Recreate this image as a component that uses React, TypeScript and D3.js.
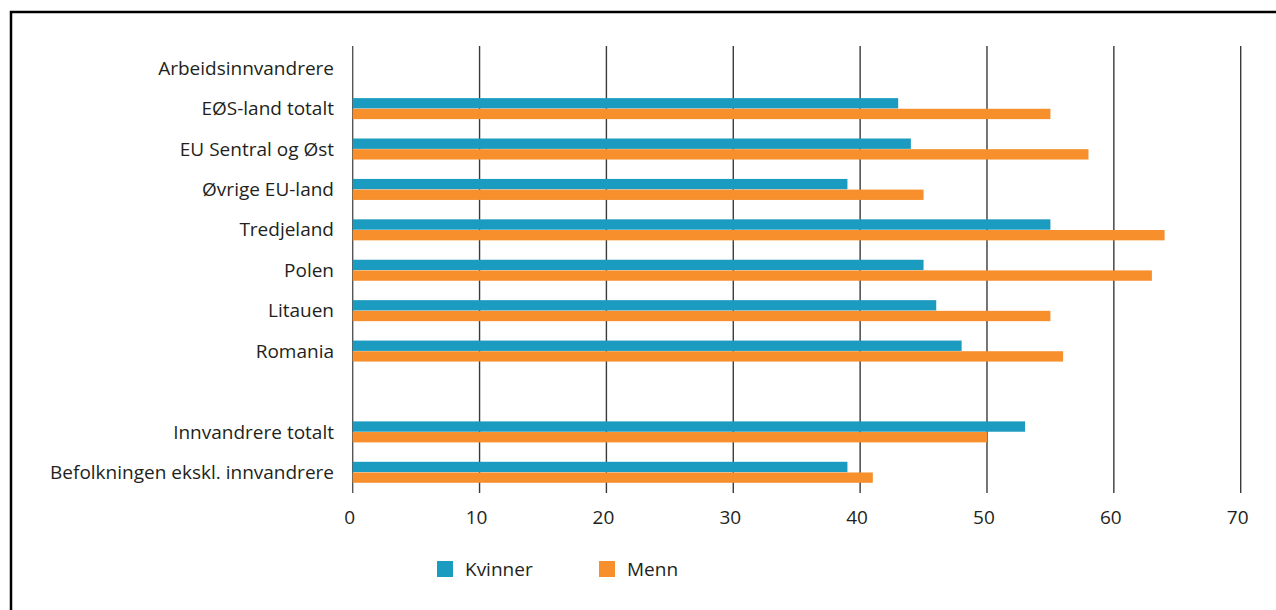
import React from "react";
import * as d3 from "d3";

// Categories top to bottom; empty strings are header / spacer rows without bars
const categories = [
  "Arbeidsinnvandrere",
  "EØS-land totalt",
  "EU Sentral og Øst",
  "Øvrige EU-land",
  "Tredjeland",
  "Polen",
  "Litauen",
  "Romania",
  "",
  "Innvandrere totalt",
  "Befolkningen ekskl. innvandrere",
];

// Percent values; null means no bar on that row
const kvinner: (number | null)[] = [null, 43, 44, 39, 55, 45, 46, 48, null, 53, 39];
const menn: (number | null)[] = [null, 55, 58, 45, 64, 63, 55, 56, null, 50, 41];

const seriesNames = ["Kvinner", "Menn"];
const seriesColors = ["#1b9bbf", "#f68f2c"];
const xTicks = [0, 10, 20, 30, 40, 50, 60, 70];

const W = 1276;
const H = 610;
const FONT = "'Open Sans', sans-serif";
const FS = 19;
const TEXT = "#231f20";

export default function App() {
  const x = d3.scaleLinear().domain([0, 70]).range([352.7, 1240.7]);
  const rowKeys = categories.map((_, i) => String(i));
  const y = d3.scaleBand<string>().domain(rowKeys).range([48, 492.5]);
  const inner = d3
    .scaleBand<string>()
    .domain(seriesNames)
    .range([0, 21])
    .paddingInner(0.03);
  const seriesValues = [kvinner, menn];

  return (
    <svg
      width={W}
      height={H}
      style={{ position: "absolute", left: 0, top: 0, display: "block", background: "#fff" }}
    >
      {/* frame */}
      <path d={`M11,${H + 5} V12 H${W + 5}`} fill="none" stroke="#000" strokeWidth={2.5} />

      {/* vertical grid lines */}
      {xTicks.map((t) => (
        <line
          key={t}
          x1={x(t)}
          x2={x(t)}
          y1={46}
          y2={493}
          stroke={t === 0 ? "#555" : "#3a3a3a"}
          strokeWidth={1.4}
        />
      ))}

      {/* bars */}
      {categories.map((c, i) => {
        const band = y(String(i))!;
        const top = band + y.bandwidth() / 2 - 10.5;
        return seriesNames.map((s, si) => {
          const v = seriesValues[si][i];
          if (v == null) return null;
          return (
            <rect
              key={`${i}-${s}`}
              x={x(0)}
              y={top + inner(s)!}
              width={x(v) - x(0)}
              height={inner.bandwidth()}
              fill={seriesColors[si]}
            />
          );
        });
      })}

      {/* category labels */}
      {categories.map((c, i) => (
        <text
          key={`l${i}`}
          x={334}
          y={y(String(i))! + y.bandwidth() / 2}
          dy="0.35em"
          textAnchor="end"
          fontFamily={FONT}
          fontSize={FS}
          fill={TEXT}
        >
          {c}
        </text>
      ))}

      {/* tick labels */}
      {xTicks.map((t) => (
        <text
          key={`t${t}`}
          x={x(t) - 3}
          y={517}
          dy="0.35em"
          textAnchor="middle"
          fontFamily={FONT}
          fontSize={FS}
          fill={TEXT}
        >
          {t}
        </text>
      ))}

      {/* legend */}
      {seriesNames.map((s, si) => {
        const lx = si === 0 ? 437 : 599;
        return (
          <g key={`lg${s}`}>
            <rect x={lx} y={561} width={16} height={16} fill={seriesColors[si]} />
            <text
              x={lx + 28}
              y={569}
              dy="0.35em"
              fontFamily={FONT}
              fontSize={FS}
              fill={TEXT}
            >
              {s}
            </text>
          </g>
        );
      })}
    </svg>
  );
}
